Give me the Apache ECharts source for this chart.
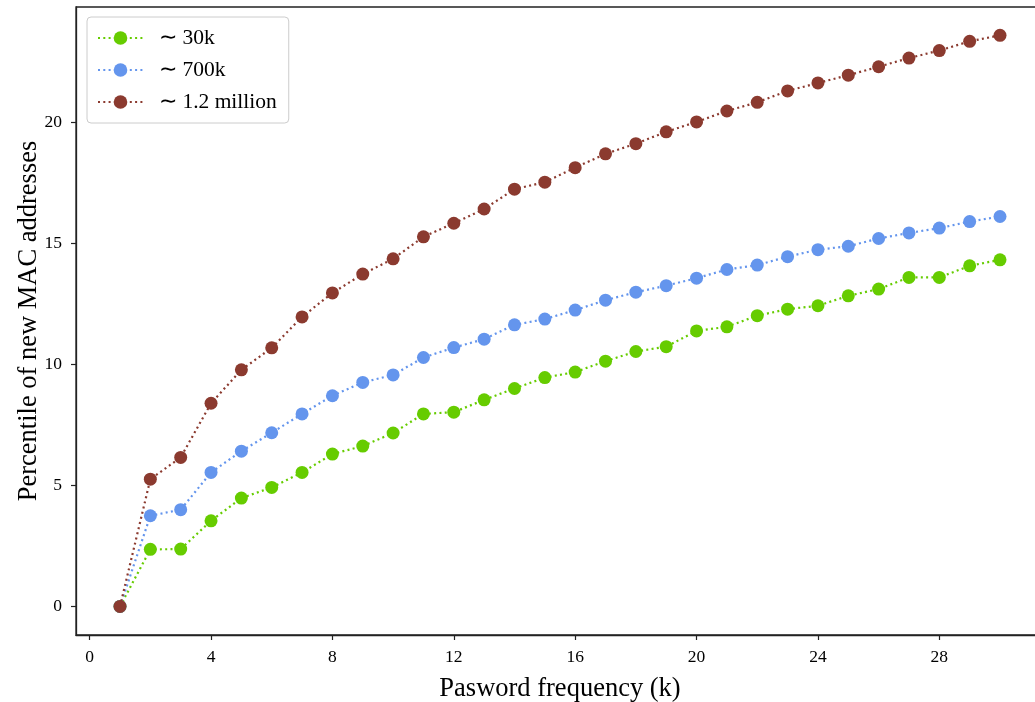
<!DOCTYPE html>
<html>
<head>
<meta charset="utf-8">
<script src="https://cdn.jsdelivr.net/npm/echarts@6/dist/echarts.min.js"></script>
<style>
html,body{margin:0;padding:0;background:#fff;}
#chart{width:1035px;height:702px;}
</style>
</head>
<body>
<div id="chart"></div>
<script>
const xValues = [1,2,3,4,5,6,7,8,9,10,11,12,13,14,15,16,17,18,19,20,21,22,23,24,25,26,27,28,29,30];
const series30k = [0,2.36,2.37,3.54,4.48,4.92,5.54,6.30,6.63,7.17,7.96,8.03,8.54,9.01,9.46,9.69,10.14,10.54,10.74,11.39,11.56,12.02,12.29,12.43,12.84,13.12,13.60,13.60,14.08,14.33];
const series700k = [0,3.75,4.00,5.54,6.42,7.18,7.96,8.71,9.26,9.57,10.29,10.70,11.05,11.64,11.88,12.25,12.66,12.99,13.26,13.57,13.93,14.11,14.46,14.75,14.89,15.21,15.44,15.64,15.91,16.12];
const series1_2m = [0,5.26,6.16,8.40,9.78,10.69,11.97,12.96,13.74,14.37,15.28,15.84,16.43,17.25,17.54,18.14,18.71,19.13,19.62,20.03,20.48,20.84,21.31,21.64,21.96,22.31,22.67,22.98,23.36,23.61];
const seriesNames = ['\u223C 30k', '\u223C 700k', '\u223C 1.2 million'];
const seriesColors = ['#66cc00', '#6495ed', '#8b3a2f'];
const xTicks = [0,4,8,12,16,20,24,28];
const yTicks = [0,5,10,15,20];
const xLabel = 'Pasword frequency (k)';
const yLabel = 'Percentile of new MAC addresses';

const font = 'Liberation Serif, Times New Roman, serif';
const allSeries = [series30k, series700k, series1_2m];

const chart = echarts.init(document.getElementById('chart'), null, {renderer: 'canvas'});
chart.setOption({
  animation: false,
  backgroundColor: '#fff',
  grid: {left: 76, top: 7, right: -9, bottom: 67, containLabel: false, outerBoundsMode: 'none',
         show: true, borderColor: '#222', borderWidth: 1.3, backgroundColor: 'transparent'},
  legend: {
    orient: 'vertical', left: 87, top: 17,
    padding: [10, 12, 10, 10],
    itemWidth: 45, itemHeight: 17, itemGap: 10,
    backgroundColor: '#fff', borderColor: '#cccccc', borderWidth: 1, borderRadius: 4,
    textStyle: {fontFamily: font, fontSize: 21.5, color: '#000', padding: [0, 0, 0, 11]},
    data: seriesNames
  },
  xAxis: {
    type: 'value', min: -0.45, max: 31.45,
    name: xLabel, nameLocation: 'middle', nameGap: 41, nameMoveOverlap: false,
    nameTextStyle: {fontFamily: font, fontSize: 26.5, color: '#000'},
    axisLine: {show: true, onZero: false, lineStyle: {color: '#222', width: 1.3}},
    axisTick: {show: true, length: 5, customValues: xTicks, lineStyle: {color: '#222', width: 1.2}},
    axisLabel: {customValues: xTicks, margin: 13, fontFamily: font, fontSize: 17.5, color: '#000'},
    splitLine: {show: false}
  },
  yAxis: {
    type: 'value', min: -1.18, max: 24.78,
    name: yLabel, nameLocation: 'middle', nameGap: 33, nameMoveOverlap: false,
    nameTextStyle: {fontFamily: font, fontSize: 26.5, color: '#000'},
    axisLine: {show: true, onZero: false, lineStyle: {color: '#222', width: 1.3}},
    axisTick: {show: true, length: 5, customValues: yTicks, lineStyle: {color: '#222', width: 1.2}},
    axisLabel: {customValues: yTicks, margin: 14, fontFamily: font, fontSize: 17.5, color: '#000'},
    splitLine: {show: false}
  },
  series: allSeries.map((vals, i) => ({
    name: seriesNames[i],
    type: 'line',
    data: xValues.map((x, j) => [x, vals[j]]),
    symbol: 'circle', symbolSize: 13,
    itemStyle: {color: seriesColors[i]},
    lineStyle: {color: seriesColors[i], width: 2.2, type: [2, 3.3]},
    z: 2 + i
  }))
});
</script>
</body>
</html>
